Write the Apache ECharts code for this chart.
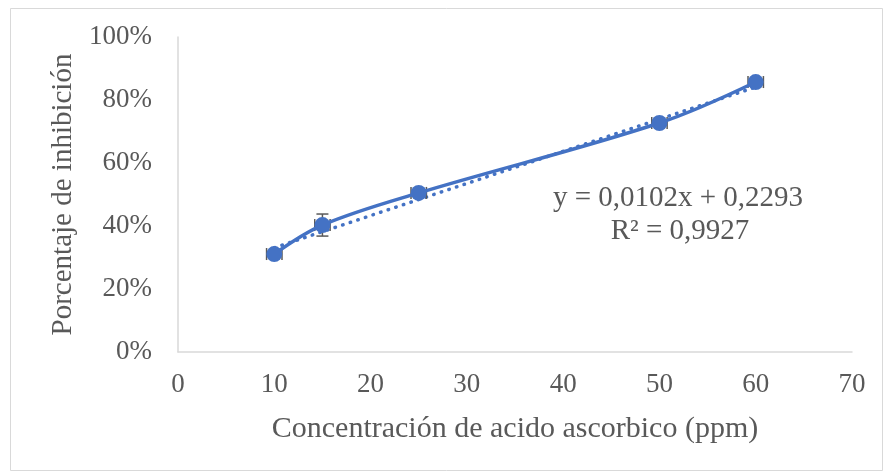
<!DOCTYPE html>
<html>
<head>
<meta charset="utf-8">
<script src="https://cdn.jsdelivr.net/npm/echarts@6/dist/echarts.min.js"></script>
<style>
  html, body { margin: 0; padding: 0; background: #fff; }
  #chart { width: 884px; height: 473px; }
</style>
</head>
<body>
<div id="chart"></div>
<script>
// datos
var concentracion = [10, 15, 25, 50, 60];
var inhibicion = [0.311, 0.403, 0.505, 0.727, 0.857];
var errorY = [0.01, 0.035, 0.01, 0.01, 0.01];
var errorX = [0.8, 0.8, 0.8, 0.8, 0.8];
// linea de tendencia (extremos)
var tendenciaX = [10, 60];
var tendenciaY = [0.331, 0.841];
var ecuacion = 'y = 0,0102x + 0,2293';
var r2 = 'R² = 0,9927';

var azul = '#4472C4';
var gris = '#595959';
var fuente = '"Liberation Serif", "Times New Roman", serif';

var puntos = concentracion.map(function (x, i) { return [x, inhibicion[i]]; });
var tendencia = tendenciaX.map(function (x, i) { return [x, tendenciaY[i]]; });
var barras = concentracion.map(function (x, i) {
  return [x, inhibicion[i], errorX[i], errorY[i]];
});

var chart = echarts.init(document.getElementById('chart'));

function renderError(params, api) {
  var x = api.value(0), y = api.value(1), ex = api.value(2), ey = api.value(3);
  var c = api.coord([x, y]);
  var l = api.coord([x - ex, y])[0];
  var r = api.coord([x + ex, y])[0];
  var t = api.coord([x, y + ey])[1];
  var b = api.coord([x, y - ey])[1];
  var cap = 6;
  var st = { stroke: '#595959', lineWidth: 1.5 };
  return {
    type: 'group',
    children: [
      { type: 'line', shape: { x1: l, y1: c[1], x2: r, y2: c[1] }, style: st },
      { type: 'line', shape: { x1: l, y1: c[1] - cap, x2: l, y2: c[1] + cap }, style: st },
      { type: 'line', shape: { x1: r, y1: c[1] - cap, x2: r, y2: c[1] + cap }, style: st },
      { type: 'line', shape: { x1: c[0], y1: t, x2: c[0], y2: b }, style: st },
      { type: 'line', shape: { x1: c[0] - cap, y1: t, x2: c[0] + cap, y2: t }, style: st },
      { type: 'line', shape: { x1: c[0] - cap, y1: b, x2: c[0] + cap, y2: b }, style: st }
    ]
  };
}

chart.setOption({
  animation: false,
  backgroundColor: '#fff',
  grid: { left: 178, right: 32, top: 37, bottom: 121 },
  graphic: [
    { type: 'rect', left: 8, top: 6, shape: { width: 872, height: 462 },
      style: { fill: 'none', stroke: '#d9d9d9', lineWidth: 1 }, silent: true },
    { type: 'text', x: 678, y: 198,
      style: { text: ecuacion, font: '29px ' + fuente, fill: gris,
        textAlign: 'center', textVerticalAlign: 'middle' } },
    { type: 'text', x: 680, y: 231,
      style: { text: r2, font: '29px ' + fuente, fill: gris,
        textAlign: 'center', textVerticalAlign: 'middle' } }
  ],
  xAxis: {
    type: 'value', min: 0, max: 70, interval: 10,
    name: 'Concentración de acido ascorbico (ppm)',
    nameLocation: 'middle', nameGap: 62,
    nameTextStyle: { fontFamily: fuente, fontSize: 30, color: gris },
    axisLine: { lineStyle: { color: '#d9d9d9', width: 1.5 } },
    axisTick: { show: false },
    splitLine: { show: false },
    axisLabel: { fontFamily: fuente, fontSize: 27, color: gris, margin: 19 }
  },
  yAxis: {
    type: 'value', min: 0, max: 1, interval: 0.2,
    name: 'Porcentaje de inhibición',
    nameLocation: 'middle', nameGap: 97,
    nameTextStyle: { fontFamily: fuente, fontSize: 29, color: gris },
    axisLine: { show: true, lineStyle: { color: '#d9d9d9', width: 1.5 } },
    axisTick: { show: false },
    splitLine: { show: false },
    axisLabel: {
      fontFamily: fuente, fontSize: 27, color: gris, margin: 26,
      formatter: function (v) { return Math.round(v * 100) + '%'; }
    }
  },
  series: [
    {
      type: 'line', data: tendencia, symbol: 'none', z: 2,
      lineStyle: { color: azul, width: 3.5, type: [0.5, 7.5], cap: 'round' }
    },
    {
      type: 'custom', data: barras, renderItem: renderError, z: 3,
      encode: { x: 0, y: 1 }
    },
    {
      type: 'line', data: puntos, smooth: 0.35, z: 4,
      symbol: 'circle', symbolSize: 16,
      itemStyle: { color: azul },
      lineStyle: { color: azul, width: 3.5 }
    }
  ]
});
</script>
</body>
</html>
